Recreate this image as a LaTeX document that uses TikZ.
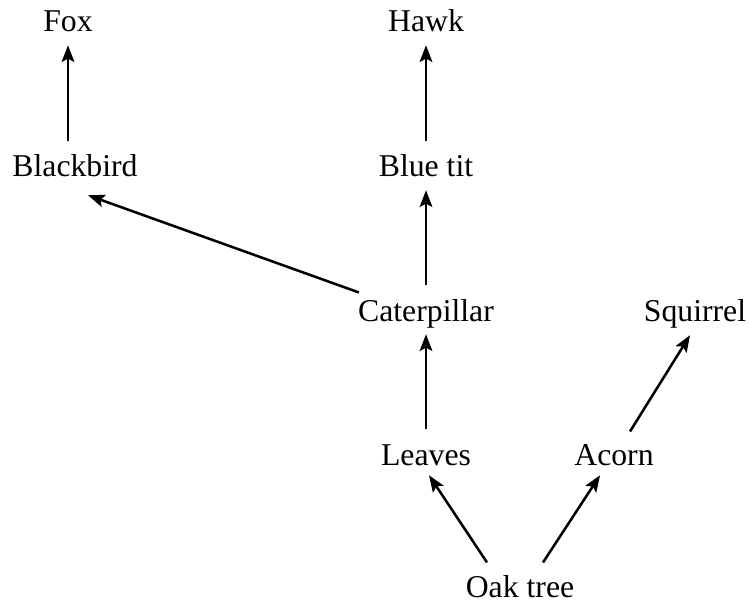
\documentclass[tikz,border=0pt]{standalone}
\usepackage{fontspec}
\setmainfont{Liberation Serif}
\usetikzlibrary{arrows.meta}
\tikzset{
  sp/.style={anchor=base, font=\fontsize{23.8}{28}\selectfont, text height=16.7pt, text depth=6pt, inner sep=3.75pt},
  arr/.style={line width=1.9pt, -{Stealth[length=12.5pt,width=9.5pt,inset=2.5pt]}},
  up/.style={arr, shorten <=6pt}
}
\begin{document}
\begin{tikzpicture}[x=0.75pt,y=-0.75pt]
    \useasboundingbox (0,0) rectangle (755,605);
    \node[sp] (fox) at (68,32) {Fox};
    \node[sp] (hawk) at (426,32) {Hawk};
    \node[sp] (bb) at (75,177) {Blackbird};
    \node[sp] (bt) at (426,177) {Blue tit};
    \node[sp] (cat) at (426,321) {Caterpillar};
    \node[sp] (sq) at (695,321) {Squirrel};
    \node[sp] (leaves) at (426,465) {Leaves};
    \node[sp] (acorn) at (614,465) {Acorn};
    \node[sp] (oak) at (520,597) {Oak tree};
    \draw[up] (bb.north -| fox) -- (fox);
    \foreach \a/\b in {bt/hawk, cat/bt, leaves/cat} \draw[up] (\a) -- (\b);
    % diagonal links
    \draw[arr] ([shift={(6,-1)}]cat.north west) -- ([shift={(13,5)}]bb.south);
    \draw[arr] ([shift={(16,-6)}]acorn.north) -- ([shift={(-5,1)}]sq.south);
    \draw[arr] ([shift={(-33,-7)}]oak.north) -- ([shift={(3,-3)}]leaves.south);
    \draw[arr] ([shift={(23,-7)}]oak.north) -- ([shift={(-14,-3)}]acorn.south);
\end{tikzpicture}
\end{document}
